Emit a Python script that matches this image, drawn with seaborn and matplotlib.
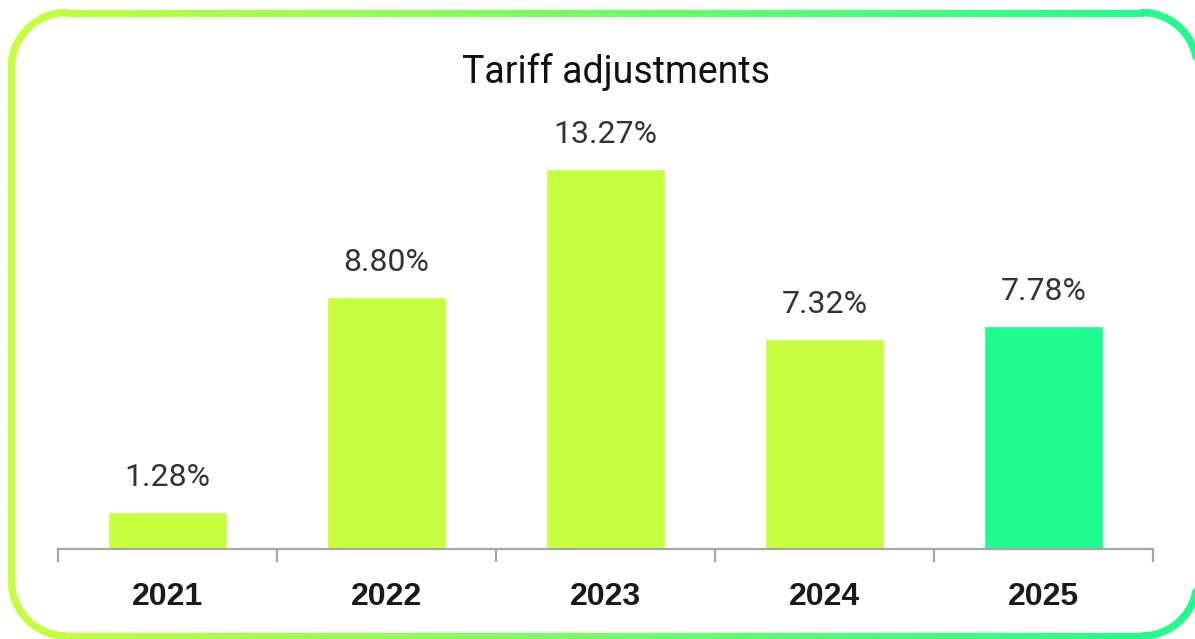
import numpy as np
import pandas as pd
import matplotlib
matplotlib.use("Agg")
import matplotlib.pyplot as plt
from matplotlib.collections import LineCollection
from matplotlib.colors import to_rgb
import seaborn as sns

# Data
years = ["2021", "2022", "2023", "2024", "2025"]
adjustments = [1.28, 8.80, 13.27, 7.32, 7.78]
value_labels = ["1.28%", "8.80%", "13.27%", "7.32%", "7.78%"]
title = "Tariff adjustments"

LIME = "#C6FF3D"
GREEN = "#1EFB8F"
bar_colors = [LIME, LIME, LIME, LIME, GREEN]

W, H, DPI = 1195, 639, 100

sns.set_theme(style="white")
plt.rcParams["font.family"] = ["Roboto", "DejaVu Sans"]

fig = plt.figure(figsize=(W / DPI, H / DPI), dpi=DPI)
fig.patch.set_facecolor("white")

# Main plot area (pixel geometry converted to figure fractions)
ax_left, ax_right, ax_base, ax_top = 58, 1153, 549, 100
ax = fig.add_axes([ax_left / W, (H - ax_base) / H,
                   (ax_right - ax_left) / W, (ax_base - ax_top) / H])

df = pd.DataFrame({"year": years, "value": adjustments})
sns.barplot(data=df, x="year", y="value", hue="year", palette=bar_colors,
            width=0.545, legend=False, ax=ax, saturation=1)

ax.set_xlim(-0.5, len(years) - 0.5)
ax.set_ylim(0, 15.68)
ax.set_xlabel("")
ax.set_ylabel("")
ax.set_yticks([])
ax.set_facecolor("none")
for side in ["left", "right", "top"]:
    ax.spines[side].set_visible(False)
ax.spines["bottom"].set_color("#A6A6A6")
ax.spines["bottom"].set_linewidth(1.6)

# Category separator ticks below the baseline
ax.set_xticks(np.arange(-0.5, len(years)), minor=True)
ax.tick_params(axis="x", which="minor", direction="out", length=9,
               width=1.6, color="#A6A6A6", bottom=True)
ax.tick_params(axis="x", which="major", length=0, pad=24)
for lbl in ax.get_xticklabels():
    lbl.set_fontsize(23)
    lbl.set_fontweight("bold")
    lbl.set_color("#1A1A1A")
    lbl.set_family(["Liberation Sans", "DejaVu Sans"])

# Value labels above bars
for i, (v, txt) in enumerate(zip(adjustments, value_labels)):
    ax.annotate(txt, xy=(i, v), xytext=(0, 19), textcoords="offset points",
                ha="center", va="baseline", fontsize=23, color="#333333",
                fontweight="normal")

fig.text(616 / W, 1 - 83 / H, title, ha="center", va="baseline",
         fontsize=27, color="#111111")

# Rounded gradient frame
bax = fig.add_axes([0, 0, 1, 1])
bax.set_xlim(0, W)
bax.set_ylim(H, 0)
bax.axis("off")
bax.set_facecolor("none")

x0, x1, y0, y1, r = 11.5, 1197, 12.5, 636, 55


def frame_points(n_arc=40, n_line=200):
    pts = []
    # top edge
    pts += list(zip(np.linspace(x0 + r, x1 - r, n_line), [y0] * n_line))
    corners = [(x1 - r, y0 + r, -90, 0), (x1 - r, y1 - r, 0, 90),
               (x0 + r, y1 - r, 90, 180), (x0 + r, y0 + r, 180, 270)]
    edges = [
        (lambda: list(zip([x1] * n_line, np.linspace(y0 + r, y1 - r, n_line)))),
        (lambda: list(zip(np.linspace(x1 - r, x0 + r, n_line), [y1] * n_line))),
        (lambda: list(zip([x0] * n_line, np.linspace(y1 - r, y0 + r, n_line)))),
        (lambda: [(x0 + r, y0)]),
    ]
    for (cx, cy, a0, a1), edge in zip(corners, edges):
        t = np.radians(np.linspace(a0, a1, n_arc))
        pts += list(zip(cx + r * np.cos(t), cy + r * np.sin(t)))
        pts += edge()
    return np.array(pts)


pts = frame_points()
segs = np.stack([pts[:-1], pts[1:]], axis=1)
mx = segs[:, :, 0].mean(axis=1)
f = np.clip((mx - x0) / (x1 - x0), 0, 1)[:, None]
c0, c1 = np.array(to_rgb(LIME)), np.array(to_rgb(GREEN))
cols = c0 * (1 - f) + c1 * f
lc = LineCollection(segs, colors=cols, linewidths=5.2, capstyle="round")
bax.add_collection(lc)

fig.savefig("out.png", dpi=DPI, facecolor="white")
